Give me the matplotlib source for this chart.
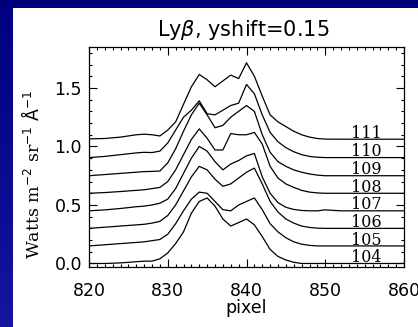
import numpy as np
import matplotlib
matplotlib.use("Agg")
import matplotlib.pyplot as plt
from matplotlib.patches import Rectangle
from matplotlib.ticker import MultipleLocator

# ---- data ----
pixel = [820, 822, 824, 826, 827, 828, 829, 830, 831, 832, 833, 834, 835, 836, 837,
         838, 839, 840, 841, 842, 843, 844, 845, 846, 847, 848, 849, 850, 852, 855, 860]
labels = ["104", "105", "106", "107", "108", "109", "110", "111"]
yshift = 0.15

s104 = [0.0, 0.0, 0.005, 0.015, 0.02, 0.02, 0.04, 0.09, 0.17, 0.27, 0.43, 0.53, 0.56, 0.49, 0.38,
        0.32, 0.35, 0.38, 0.33, 0.23, 0.12, 0.06, 0.03, 0.01, 0.0, 0.0, 0.0, 0.0, 0.0, 0.0, 0.0]
s105 = [0.0, 0.01, 0.02, 0.03, 0.035, 0.045, 0.055, 0.10, 0.19, 0.30, 0.40, 0.46, 0.45, 0.38, 0.31,
        0.30, 0.35, 0.38, 0.41, 0.31, 0.19, 0.12, 0.07, 0.035, 0.015, 0.005, 0.0, 0.0, 0.0, 0.0, 0.0]
s106 = [0.0, 0.01, 0.02, 0.03, 0.035, 0.045, 0.06, 0.11, 0.20, 0.32, 0.44, 0.53, 0.50, 0.42, 0.36,
        0.38, 0.43, 0.48, 0.515, 0.38, 0.23, 0.14, 0.08, 0.045, 0.02, 0.008, 0.002, 0.0, 0.0, 0.0, 0.0]
s107 = [0.0, 0.008, 0.02, 0.035, 0.04, 0.05, 0.065, 0.10, 0.19, 0.32, 0.45, 0.55, 0.51, 0.42, 0.35,
        0.40, 0.43, 0.47, 0.49, 0.29, 0.15, 0.07, 0.03, 0.012, 0.003, 0.0, 0.0, 0.008, 0.0, 0.0, 0.0]
s108 = [0.0, 0.006, 0.015, 0.025, 0.03, 0.04, 0.05, 0.10, 0.20, 0.33, 0.46, 0.55, 0.47, 0.37, 0.37,
        0.51, 0.50, 0.50, 0.52, 0.42, 0.23, 0.13, 0.08, 0.05, 0.025, 0.01, 0.003, 0.0, 0.0, 0.0, 0.0]
s109 = [0.0, 0.01, 0.02, 0.03, 0.035, 0.037, 0.04, 0.11, 0.23, 0.38, 0.52, 0.62, 0.52, 0.41, 0.43,
        0.50, 0.55, 0.60, 0.55, 0.35, 0.20, 0.12, 0.08, 0.05, 0.03, 0.015, 0.005, 0.0, 0.0, 0.0, 0.0]
s110 = [0.005, 0.015, 0.03, 0.045, 0.05, 0.048, 0.06, 0.13, 0.24, 0.35, 0.41, 0.49, 0.38, 0.37, 0.41,
        0.45, 0.47, 0.63, 0.55, 0.37, 0.22, 0.14, 0.09, 0.055, 0.03, 0.015, 0.008, 0.005, 0.005, 0.005, 0.005]
s111 = [0.015, 0.018, 0.03, 0.05, 0.055, 0.05, 0.04, 0.09, 0.16, 0.31, 0.46, 0.565, 0.52, 0.46, 0.51,
        0.56, 0.53, 0.665, 0.55, 0.38, 0.22, 0.16, 0.12, 0.08, 0.05, 0.03, 0.018, 0.013, 0.012, 0.012, 0.012]
spectra = [s104, s105, s106, s107, s108, s109, s110, s111]

xticks = [820, 830, 840, 850, 860]
yticks = [0.0, 0.5, 1.0, 1.5]

# ---- figure ----
W, H = 418, 327
fig = plt.figure(figsize=(W / 100, H / 100), dpi=100)

# blue gradient background
bg = fig.add_axes([0, 0, 1, 1], zorder=-10)
grad = np.linspace(0, 1, 256).reshape(-1, 1)
top = np.array([0.0, 0.0, 0.50])
bot = np.array([0.08, 0.08, 0.62])
img = top[None, None, :] * (1 - grad[:, :, None]) + bot[None, None, :] * grad[:, :, None]
bg.imshow(img, aspect="auto", extent=[0, 1, 0, 1])
bg.set_axis_off()

# white panel
fig.add_artist(Rectangle((13 / W, 0), 1 - 13 / W, 1 - 8 / H, transform=fig.transFigure,
                         facecolor="white", edgecolor="none", zorder=-5))

ax = fig.add_axes([89 / W, (H - 267) / H, (404 - 89) / W, (267 - 47) / H])
ax.patch.set_alpha(0)

for i, (s, lab) in enumerate(zip(spectra, labels)):
    y = np.array(s) + yshift * i
    ax.plot(pixel, y, color="black", lw=0.9)
    ax.text(855.2, y[-1] + 0.012, lab, ha="center", va="baseline",
            family="DejaVu Serif", fontsize=11.5, color="black")

ax.set_xlim(820, 860)
ax.set_ylim(-0.03, 1.85)
ax.set_xticks(xticks)
ax.set_yticks(yticks)
ax.set_yticklabels([f"{v:.1f}" for v in yticks])
ax.xaxis.set_minor_locator(MultipleLocator(1))
ax.yaxis.set_minor_locator(MultipleLocator(0.1))
ax.tick_params(which="both", direction="in", top=True, right=True, width=0.8, colors="black")
ax.tick_params(which="major", length=5.5, labelsize=12.5)
ax.tick_params(which="minor", length=2.5)
ax.tick_params(axis="x", pad=11)
ax.tick_params(axis="y", pad=5)
for sp in ax.spines.values():
    sp.set_linewidth(0.9)

fig.text(246 / W, 1 - 308 / H, "pixel", ha="center", va="center", fontsize=12.5)
fig.text(243 / W, 1 - 30 / H, r"Ly$\beta$, yshift=0.15", ha="center", va="center", fontsize=15)
fig.text(32 / W, 1 - 174 / H, r"Watts m$^{-2}$ sr$^{-1}$ $\mathrm{\AA}^{-1}$", rotation=90,
         ha="center", va="center", family="DejaVu Serif", fontsize=12.5)

fig.savefig("out.png", dpi=100)
